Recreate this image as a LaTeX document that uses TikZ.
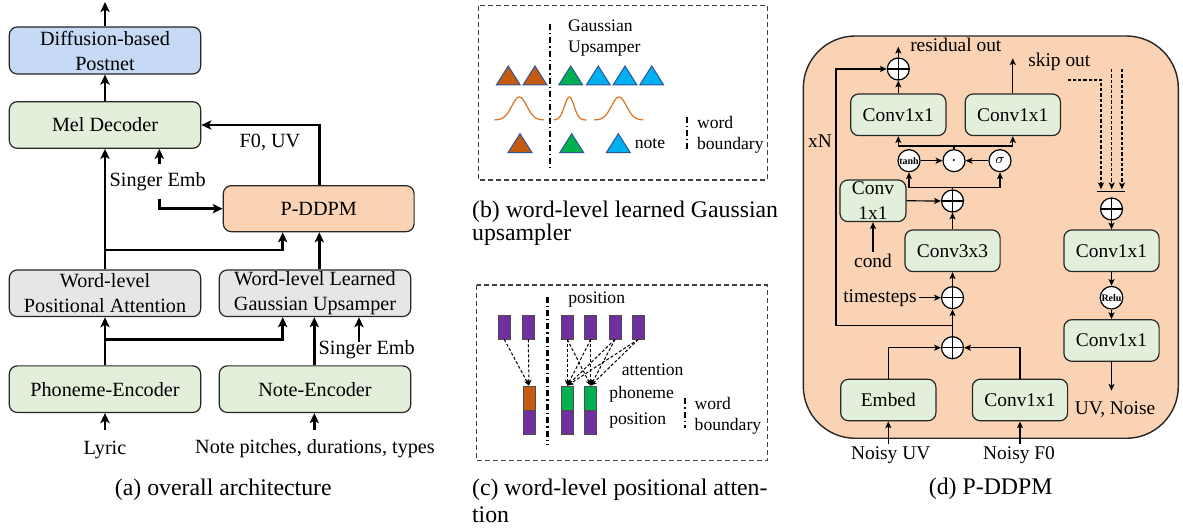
\documentclass[tikz,border=0pt]{standalone}
\usepackage{fontspec}
\setmainfont{Liberation Serif}
\usetikzlibrary{arrows.meta,calc}
\definecolor{cblue}{HTML}{C6DAF5}
\definecolor{cgreen}{HTML}{E2EFDA}
\definecolor{cgray}{HTML}{E7E6E6}
\definecolor{cpeach}{HTML}{FAD3B5}
\definecolor{torange}{HTML}{C55A11}
\definecolor{tgreen}{HTML}{00B050}
\definecolor{tblue}{HTML}{00B0F0}
\definecolor{tedge}{HTML}{2F5597}
\definecolor{gcurve}{HTML}{D9731F}
\definecolor{pbarc}{HTML}{7030A0}
\begin{document}
\begin{tikzpicture}[x=0.5pt,y=-0.5pt,
  fa/.style={font=\fontsize{10.1}{12.5}\selectfont},
  fd/.style={font=\fontsize{9.7}{12.5}\selectfont},
  fb/.style={font=\fontsize{8.8}{10.5}\selectfont},
  fcap/.style={font=\fontsize{11.9}{14}\selectfont},
  abox/.style={draw=black!85, line width=0.6pt, rounded corners=4pt, minimum width=95.7pt, minimum height=23.3pt, inner sep=0pt, align=center, fa},
  dbox/.style={draw=black!85, line width=0.6pt, rounded corners=4pt, fill=cgreen, minimum width=47.6pt, minimum height=20.8pt, inner sep=0pt, align=center, fd},
  aarr/.style={line width=1.3pt, -{Stealth[length=5pt,width=4.6pt,inset=1.2pt]}},
  darr/.style={line width=0.6pt, -{Stealth[length=3.4pt,width=3pt,inset=0.8pt]}},
  dline/.style={line width=0.6pt},
  ddash/.style={line width=0.6pt, dash pattern=on 1.6pt off 1pt, -{Stealth[length=3.4pt,width=3pt,inset=0.8pt]}},
  opl/.style={circle, draw, fill=white, line width=0.6pt, minimum size=11pt, inner sep=0pt, path picture={\draw[line width=0.6pt] (path picture bounding box.north) -- (path picture bounding box.south) (path picture bounding box.west) -- (path picture bounding box.east);}},
  opc/.style={circle, draw, fill=white, line width=0.6pt, minimum size=11pt, inner sep=0pt},
  dashbox/.style={draw=black!75, line width=0.6pt, dash pattern=on 2.5pt off 1.5pt},
  wbound/.style={line width=1.2pt, dash pattern=on 3pt off 1.5pt on 0.7pt off 1.5pt},
  pbar/.style={draw=black!70, line width=0.4pt, fill=pbarc, minimum width=6.1pt, minimum height=11.7pt, inner sep=0pt},
  attn/.style={line width=0.5pt, dash pattern=on 1.5pt off 1pt, -{Stealth[length=3pt,width=2.6pt]}},
  lbl/.style={inner sep=1pt},
]
\useasboundingbox (0,0) rectangle (1183,528);

% ---------------- (a) ----------------
\node[abox, fill=cblue, minimum height=23.5pt] (post) at (105,50.5) {Diffusion-based\\Postnet};
\node[abox, fill=cgreen] (mel) at (105,125) {Mel Decoder};
\node[abox, fill=cpeach, minimum width=95.4pt, minimum height=23pt] (pdd) at (318.7,208.7) {P-DDPM};
\node[abox, fill=cgray] (wpa) at (105,293.3) {Word-level\\Positional Attention};
\node[abox, fill=cgray] (wgu) at (315,293.3) {Word-level Learned\\Gaussian Upsamper};
\node[abox, fill=cgreen] (phe) at (105,389.2) {Phoneme-Encoder};
\node[abox, fill=cgreen] (nte) at (315,389.2) {Note-Encoder};
\coordinate (aout) at (105,2);
\coordinate (xa) at (319.3,0);
\coordinate (xb) at (282.7,0);
\coordinate (xc) at (314.3,0);
\coordinate (bra) at (105,250);
\coordinate (brb) at (105,339.3);
\node[fa, lbl] (f0uv) at (270,142.7) {F0, UV};
\node[fa, lbl] (se1) at (157.7,181.7) {Singer Emb};
\node[fa, lbl] (se2) at (366.7,350) {Singer Emb};
\node[fa, lbl] (lyr) at (105,450) {Lyric};
\node[fa, lbl] (notes) at (315,448.3) {Note pitches, durations, types};
\node[fcap] (capa) at (223.3,489.3) {(a) overall architecture};
\draw[aarr] (post.north) -- (aout);
\draw[aarr] (mel.north) -- (post.south);
\draw[aarr] (pdd.north -| xa) |- (mel.east);
\coordinate (se1a) at (159.3,164.3);
\coordinate (se1b) at (159.3,199);
\draw[aarr] (se1a) -- (se1a |- mel.south);
\draw[aarr] (se1b) |- (pdd.west);
\draw[aarr] (wpa.north) -- (mel.south);
\draw[aarr] (bra) -| (pdd.south -| xb);
\draw[aarr] (wgu.north -| xa) -- (pdd.south -| xa);
\draw[aarr] (phe.north) -- (wpa.south);
\draw[aarr] (brb) -| (wgu.south -| xb);
\draw[aarr] (nte.north -| xc) -- (wgu.south -| xc);
\coordinate (se2a) at (359,341.7);
\draw[aarr] (se2a) -- (se2a |- wgu.south);
\coordinate (lya) at (105,430);
\draw[aarr] (lya) -- (phe.south);
\coordinate (nta) at (314.3,430);
\draw[aarr] (nta) -- (nta |- nte.south);

% ---------------- (b) ----------------
\draw[dashbox] (478.3,5.7) rectangle (767.3,180);
\draw[wbound] (550,24) -- (550,170.7);
\node[fb, anchor=west, inner sep=0pt] (gtxt1) at (567.7,26) {Gaussian};
\node[fb, anchor=west, inner sep=0pt] (gtxt2) at (567.7,48.3) {Upsamper};
\foreach \cx/\cy/\cc in {508.3/85/torange, 535/85/torange, 570.7/85/tgreen, 598.3/85/tblue, 625/85/tblue, 651.7/85/tblue, 520/152.7/torange, 571.7/152.7/tgreen, 618.3/152.7/tblue}
  \filldraw[fill=\cc, draw=tedge, line width=0.5pt] (\cx-12,\cy) -- (\cx+12,\cy) -- (\cx,\cy-19) -- cycle;
\draw[gcurve, line width=0.6pt] plot[domain=494.3:544, samples=50, smooth] (\x, {120-23*exp(-0.5*(((\x-519.3)/7.5)^2))});
\draw[gcurve, line width=0.6pt] plot[domain=554:586.7, samples=50, smooth] (\x, {120-23*exp(-0.5*(((\x-569.3)/4.8)^2))});
\draw[gcurve, line width=0.6pt] plot[domain=594:643.3, samples=50, smooth] (\x, {120-23*exp(-0.5*(((\x-619)/7.5)^2))});
\node[fb, lbl] (notel) at (650,143.3) {note};
\draw[wbound] (686.7,116.7) -- (686.7,150);
\node[fb, anchor=west, inner sep=0pt] (bw1) at (696.7,122.7) {word};
\node[fb, anchor=west, inner sep=0pt] (bw2) at (696.7,145.3) {boundary};
\node[fcap, anchor=west, inner sep=0pt] (capb1) at (471.7,211.7) {(b) word-level learned Gaussian};
\node[fcap, anchor=west, inner sep=0pt] (capb2) at (471.7,235) {upsampler};

% ---------------- (c) ----------------
\draw[dashbox] (476.7,285) rectangle (767.3,460.7);
\draw[wbound] (547.3,296.7) -- (547.3,445);
\node[fb, lbl] (cpos) at (596.7,300) {position};
\foreach \i/\cx in {1/504.3,2/528.3,3/567.3,4/590.7,5/615,6/638.3}
  \node[pbar] (t\i) at (\cx,327.3) {};
\node[pbar, fill=torange, minimum height=12pt] (b1) at (529,398) {};
\node[pbar, minimum height=12.15pt] (b1p) at (529,422.2) {};
\node[pbar, fill=tgreen, minimum height=12pt] (g1) at (567.3,398) {};
\node[pbar, minimum height=12.15pt] (g1p) at (567.3,422.2) {};
\node[pbar, fill=tgreen, minimum height=12pt] (g2) at (590.7,398) {};
\node[pbar, minimum height=12.15pt] (g2p) at (590.7,422.2) {};
\draw[attn] (t1.south) -- (b1.north);
\draw[attn] (t2.south) -- (b1.north);
\foreach \i in {3,4,5,6} {
  \draw[attn] (t\i.south) -- (g1.north);
  \draw[attn] (t\i.south) -- (g2.north);
}
\node[fb, lbl] (attl) at (652.7,369.3) {attention};
\node[fb, lbl] (phl) at (641.7,394) {phoneme};
\node[fb, lbl] (pol) at (637.7,420.7) {position};
\draw[wbound] (685,398.3) -- (685,428.3);
\node[fb, anchor=west, inner sep=0pt] (cw1) at (694.3,403.3) {word};
\node[fb, anchor=west, inner sep=0pt] (cw2) at (694.3,426) {boundary};
\node[fcap, anchor=west, inner sep=0pt] (capc1) at (471.7,490) {(c) word-level positional atten-};
\node[fcap, anchor=west, inner sep=0pt] (capc2) at (471.7,515) {tion};

% ---------------- (d) ----------------
\draw[fill=cpeach, draw=black!85, line width=0.7pt, rounded corners=26pt] (803.3,36) rectangle (1178.3,438.3);
\node[dbox] (c1l) at (898.3,114.8) {Conv1x1};
\node[dbox] (c1r) at (1012.8,114.8) {Conv1x1};
\node[dbox, minimum width=33pt] (convs) at (873,200.8) {Conv\\1x1};
\node[dbox] (conv3) at (952.5,250.8) {Conv3x3};
\node[dbox] (c1m) at (1111.5,250.8) {Conv1x1};
\node[dbox] (c1b) at (1111.5,340.5) {Conv1x1};
\node[dbox] (emb) at (888.3,400) {Embed};
\node[dbox] (cf0) at (1020,400) {Conv1x1};
\node[opl] (add1) at (898.3,69) {};
\node[opc, font=\fontsize{5}{5}\selectfont\bfseries] (tanh) at (909,160.7) {tanh};
\node[opc] (dotc) at (954,160.7) {$\cdot$};
\node[opc, font=\fontsize{7}{7}\selectfont] (sig) at (1000,160.7) {$\sigma$};
\node[opl] (add2) at (952.5,201) {};
\node[opl] (add3) at (952.5,297.7) {};
\node[opl] (add4) at (952.5,347.7) {};
\node[opl] (add5) at (1111.5,209) {};
\node[opc, minimum size=11.3pt, font=\fontsize{5}{5}\selectfont\bfseries] (relu) at (1111.5,297.7) {Relu};
\coordinate (rout) at (898.3,46.7);
\draw[darr] (add1.north) -- (rout);
\node[fd, lbl] (resl) at (955.8,45) {residual out};
\draw[darr] (c1l.north) -- (add1.south);
\coordinate (sout) at (1012.8,58.3);
\draw[darr] (c1r.north) -- (sout);
\node[fd, lbl] (skipl) at (1059.3,62.3) {skip out};
\coordinate (j1) at (954,146);
\draw[dline] (dotc.north) -- (j1);
\draw[darr] (j1) -| (c1l.south);
\draw[darr] (j1) -| (c1r.south);
\draw[darr] (tanh.east) -- (dotc.west);
\draw[darr] (sig.west) -- (dotc.east);
\coordinate (j2) at (952.5,187.3);
\draw[dline] (add2.north) -- (j2);
\draw[darr] (j2) -| (tanh.south);
\draw[darr] (j2) -| (sig.south);
\draw[darr] (convs.east) -- (add2.west);
\node[fd, lbl] (condl) at (873,261) {cond};
\draw[darr] (condl.north) -- (convs.south);
\draw[darr] (conv3.north) -- (add2.south);
\draw[darr] (add3.north) -- (conv3.south);
\node[fd, anchor=east, inner sep=1pt] (tsl) at (919,297.7) {timesteps};
\draw[darr] (tsl.east) -- (add3.west);
\draw[darr] (add4.north) -- (add3.south);
\coordinate (xn1) at (952.5,325.7);
\coordinate (xn2) at (836,325.7);
\draw[darr] (xn1) -- (xn2) |- (add1.west);
\node[fd, lbl] (xnl) at (820,140.7) {xN};
\draw[darr] (emb.north) |- (add4.west);
\draw[darr] (cf0.north) |- (add4.east);
\node[fd, lbl] (nuv) at (890.7,455) {Noisy UV};
\node[fd, lbl] (nf0) at (1019,455) {Noisy F0};
\draw[darr] (nuv.north -| emb.south) -- (emb.south);
\draw[darr] (nf0.north -| cf0.south) -- (cf0.south);
\coordinate (sk1a) at (1067.7,80);
\coordinate (sk1b) at (1101,189.3);
\coordinate (sk2a) at (1111.7,69.3);
\coordinate (sk2b) at (1111.7,189.3);
\coordinate (sk3a) at (1122,69.3);
\coordinate (sk3b) at (1122,189.3);
\draw[ddash] (sk1a) -| (sk1b);
\draw[ddash] (sk2a) -- (sk2b);
\draw[ddash] (sk3a) -- (sk3b);
\coordinate (bar1) at (1096.7,191.7);
\coordinate (bar2) at (1125,191.7);
\draw[dline] (bar1) -- (bar2);
\draw[darr] (add5.south) -- (c1m.north);
\draw[darr] (c1m.south) -- (relu.north);
\draw[darr] (relu.south) -- (c1b.north);
\coordinate (uvn) at (1111.5,390.7);
\draw[darr] (c1b.south) -- (uvn);
\node[fd, lbl] (uvl) at (1115,410) {UV, Noise};
\node[fcap] (capd) at (990.7,488.3) {(d) P-DDPM};
\end{tikzpicture}
\end{document}
